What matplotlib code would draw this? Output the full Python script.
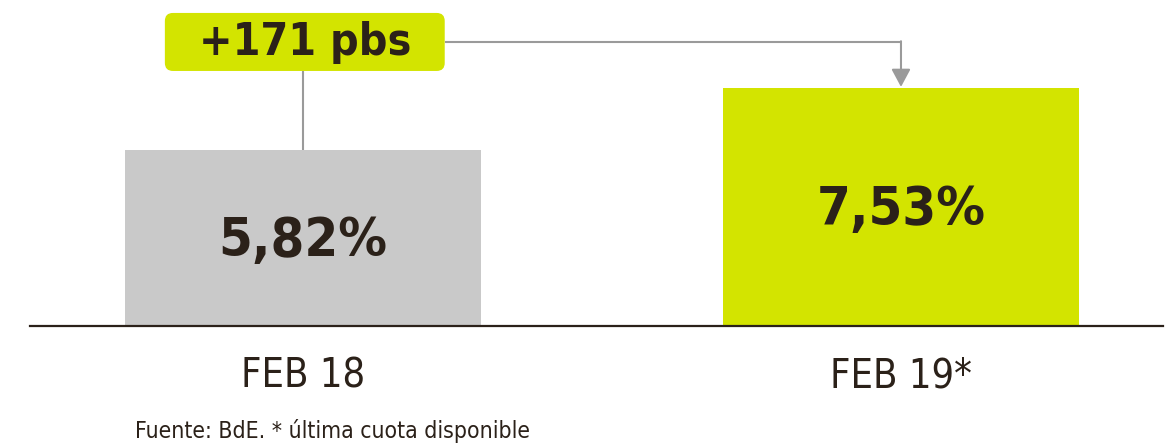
import matplotlib
matplotlib.use('Agg')
import matplotlib.pyplot as plt
from matplotlib.patches import FancyBboxPatch

# data
periods = ['FEB 18', 'FEB 19*']
values = [5.82, 7.53]
value_labels = ['5,82%', '7,53%']
delta_label = '+171 pbs'
source_note = 'Fuente: BdE. * última cuota disponible'

bar_colors = ['#c9c9c9', '#d3e400']
text_color = '#2b2119'
line_color = '#9a9a9a'

plt.rcParams['font.family'] = ['DejaVu Sans']
plt.rcParams['font.stretch'] = 'condensed'

fig = plt.figure(figsize=(11.76, 4.43), dpi=100)
ax = fig.add_axes([0, 0.2641, 1, 0.7359])

base = 0.966
x = list(range(len(periods)))
ax.bar(x, values, width=0.595, color=bar_colors, zorder=2)
ax.set_xlim(-0.5067, 1.4599)
ax.set_ylim(base, 9.957)
ax.axis('off')

# baseline
ax.axhline(base, xmin=0.0255, xmax=0.989, color=text_color, lw=1.6, zorder=3,
           clip_on=False)

# value labels inside bars
for xi, v, lab in zip(x, values, value_labels):
    ax.text(xi, (v + base) / 2 - 0.08, lab, ha='center', va='center',
            fontsize=39, fontweight='bold', color=text_color, zorder=4)

# category labels below
for xi, lab in zip(x, periods):
    ax.text(xi, base - 1.38, lab, ha='center', va='center', fontsize=28.5,
            color=text_color, clip_on=False)

# delta box and connectors
box_left, box_right = -0.231, 0.237
box_bottom, box_top = 8.00, 9.60
line_y = 8.80
box = FancyBboxPatch((box_left, box_bottom), box_right - box_left,
                     box_top - box_bottom,
                     boxstyle='round,pad=0,rounding_size=0.0134',
                     mutation_aspect=598 / 36.26,
                     facecolor=bar_colors[1], edgecolor='none', zorder=5,
                     clip_on=False)
ax.add_patch(box)
ax.text((box_left + box_right) / 2, (box_bottom + box_top) / 2 - 0.02,
        delta_label, ha='center', va='center', fontsize=32,
        fontweight='bold', color=text_color, zorder=6)

ax.plot([x[0], x[0]], [values[0], box_bottom], color=line_color, lw=1.5,
        zorder=1, solid_capstyle='butt')
ax.plot([box_right, x[1]], [line_y, line_y], color=line_color, lw=1.5,
        zorder=1, solid_capstyle='butt')
ax.annotate('', xy=(x[1], values[1] + 0.03), xytext=(x[1], line_y + 0.02),
            arrowprops=dict(arrowstyle='-|>,head_length=0.54,head_width=0.29',
                            mutation_scale=20, color=line_color, lw=1.5,
                            shrinkA=0, shrinkB=0))

fig.text(135 / 1176, 1 - 438 / 443, source_note, ha='left', va='baseline',
         fontsize=16.5, color=text_color)

fig.savefig('out.png', dpi=100, facecolor='white')
